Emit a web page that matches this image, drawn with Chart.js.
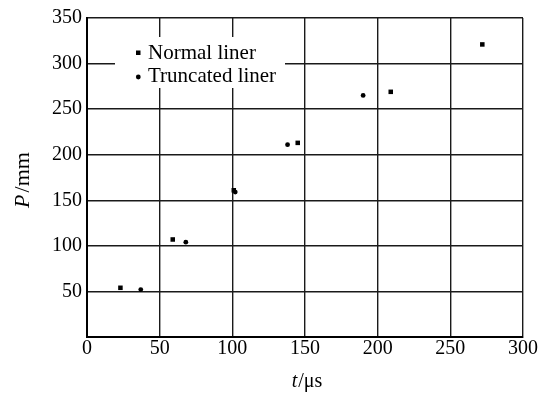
<!DOCTYPE html>
<html>
<head>
<meta charset="utf-8">
<script src="https://cdn.jsdelivr.net/npm/chart.js@4.4.0/dist/chart.umd.min.js"></script>
<style>
html,body{margin:0;padding:0;background:#fff;}
#wrap{width:552px;height:394px;}
</style>
</head>
<body>
<div id="wrap"><canvas id="c" width="552" height="394"></canvas></div>
<script>
const seriesNames = ["Normal liner", "Truncated liner"];
const normalT = [23, 59, 101, 145, 209, 272];
const normalP = [54, 107, 161, 213, 269, 321];
const truncT = [37, 68, 102, 138, 190];
const truncP = [52, 104, 159, 211, 265];
const xTicks = [0, 50, 100, 150, 200, 250, 300];
const yTicks = [0, 50, 100, 150, 200, 250, 300, 350];
const xTitle = ["t", "/μs"];
const yTitle = ["P", "/mm"];

const FONT = "'Liberation Serif', 'DejaVu Serif', serif";
const toPts = (xs, ys) => xs.map((x, i) => ({x: x, y: ys[i]}));

const customPlugin = {
  id: 'custom',
  afterDraw(chart) {
    const ctx = chart.ctx;
    const ca = chart.chartArea;
    ctx.save();
    // legend box
    ctx.fillStyle = '#fff';
    ctx.fillRect(115, 37, 170, 51);
    ctx.fillStyle = '#000';
    ctx.font = "21px " + FONT;
    ctx.textBaseline = 'middle';
    ctx.textAlign = 'left';
    ctx.fillRect(136, 50.5, 4.5, 4.5);
    ctx.beginPath(); ctx.arc(138.3, 77, 2.4, 0, Math.PI * 2); ctx.fill();
    ctx.fillText(chart.data.datasets[0].label, 148, 53);
    ctx.fillText(chart.data.datasets[1].label, 148, 76);
    const drawMixed = (parts, cx, cy, size, gap) => {
      ctx.font = "italic " + size + "px " + FONT;
      const w1 = ctx.measureText(parts[0]).width;
      ctx.font = size + "px " + FONT;
      const w2 = ctx.measureText(parts[1]).width;
      const start = cx - (w1 + w2 + gap) / 2;
      ctx.textAlign = 'left';
      ctx.font = "italic " + size + "px " + FONT;
      ctx.fillText(parts[0], start, cy);
      ctx.font = size + "px " + FONT;
      ctx.fillText(parts[1], start + w1 + gap, cy);
    };
    drawMixed(xTitle, 307, 382, 20, 1);
    ctx.translate(23, 180);
    ctx.rotate(-Math.PI / 2);
    drawMixed(yTitle, 0, 0, 22, 2);
    ctx.restore();
  }
};

new Chart(document.getElementById('c'), {
  type: 'scatter',
  data: {
    datasets: [
      {label: seriesNames[0], data: toPts(normalT, normalP), pointStyle: 'rect', pointRadius: 3.2, backgroundColor: '#000', borderColor: '#000', borderWidth: 0},
      {label: seriesNames[1], data: toPts(truncT, truncP), pointStyle: 'circle', pointRadius: 2.4, backgroundColor: '#000', borderColor: '#000', borderWidth: 0}
    ]
  },
  options: {
    responsive: false,
    animation: false,
    devicePixelRatio: 1,
    layout: {padding: {left: 0, right: 29, top: 18, bottom: 0}},
    plugins: {legend: {display: false}, tooltip: {enabled: false}},
    scales: {
      x: {
        type: 'linear', min: 0, max: 300,
        afterBuildTicks: s => { s.ticks = xTicks.map(v => ({value: v})); },
        afterFit: s => { s.height = 57; },
        grid: {color: '#1a1a1a', lineWidth: 1.4, drawTicks: false},
        border: {color: '#000', width: 2},
        ticks: {color: '#000', font: {family: FONT, size: 20}, padding: 0, maxRotation: 0}
      },
      y: {
        type: 'linear', min: 0, max: 350,
        afterBuildTicks: s => { s.ticks = yTicks.map(v => ({value: v})); },
        afterFit: s => { s.width = 87; },
        grid: {color: '#1a1a1a', lineWidth: 1.4, drawTicks: false},
        border: {color: '#000', width: 2},
        ticks: {color: '#000', font: {family: FONT, size: 20}, padding: 5,
          callback: v => v === 0 ? '' : v}
      }
    }
  },
  plugins: [customPlugin]
});
</script>
</body>
</html>
